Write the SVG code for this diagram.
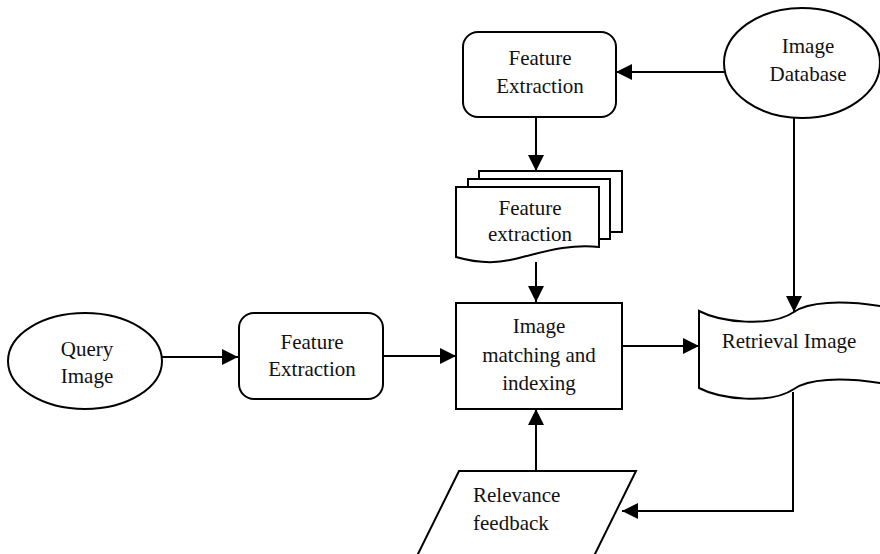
<svg xmlns="http://www.w3.org/2000/svg" width="880" height="554" viewBox="0 0 880 554">
<style>
.s{fill:#fff;stroke:#000;stroke-width:2}
.t{font-family:"Liberation Serif","Times New Roman",serif;font-size:21px;fill:#111;text-anchor:middle}
.c{fill:none;stroke:#000;stroke-width:2}
</style>
<defs>
<marker id="ah" markerUnits="userSpaceOnUse" markerWidth="16" markerHeight="16" refX="16" refY="8" orient="auto">
<path d="M0,0 L16,8 L0,16 Z" fill="#000"/>
</marker>
</defs>
<rect width="880" height="554" fill="#fff"/>
<g id="connectors">
<path class="c" d="M162,357 H238" marker-end="url(#ah)"/>
<path class="c" d="M383,356 H456" marker-end="url(#ah)"/>
<path class="c" d="M622,346 H699" marker-end="url(#ah)"/>
<path class="c" d="M536,471 V409" marker-end="url(#ah)"/>
<path class="c" d="M793,392 V511 H622" marker-end="url(#ah)"/>
<path class="c" d="M794,117 V312" marker-end="url(#ah)"/>
<path class="c" d="M724,72 H616" marker-end="url(#ah)"/>
<path class="c" d="M536,117 V171" marker-end="url(#ah)"/>
<path class="c" d="M536,262 V302" marker-end="url(#ah)"/>
</g>
<g id="query-image">
<ellipse class="s" cx="85" cy="361" rx="77" ry="48"/>
<text class="t" x="87" y="356">Query</text>
<text class="t" x="87" y="383">Image</text>
</g>
<g id="feature-extraction-query">
<rect class="s" x="239" y="313" width="144" height="86" rx="15"/>
<text class="t" x="312" y="349">Feature</text>
<text class="t" x="312" y="376">Extraction</text>
</g>
<g id="image-matching">
<rect class="s" x="456" y="303" width="166" height="106"/>
<text class="t" x="539" y="333">Image</text>
<text class="t" x="539" y="362">matching and</text>
<text class="t" x="539" y="390">indexing</text>
</g>
<g id="retrieval-image">
<path class="s" d="M699,311 C720,322 770,328 794,312 C808,302 840,300 880,306 L900,309 V386 L880,383 C840,377 808,379 794,389 C770,405 720,399 699,388 Z"/>
<text class="t" x="789" y="348">Retrieval Image</text>
</g>
<g id="relevance-feedback">
<polygon class="s" points="459,471 636,471 592,560 415,560"/>
<text class="t" x="473" y="502" style="text-anchor:start">Relevance</text>
<text class="t" x="473" y="530" style="text-anchor:start">feedback</text>
</g>
<g id="image-database">
<ellipse class="s" cx="802" cy="63" rx="78" ry="55"/>
<text class="t" x="808" y="53">Image</text>
<text class="t" x="808" y="81">Database</text>
</g>
<g id="feature-extraction-db">
<rect class="s" x="463" y="32" width="153" height="85" rx="15"/>
<text class="t" x="540" y="65">Feature</text>
<text class="t" x="540" y="93">Extraction</text>
</g>
<g id="feature-extraction-docs">
<rect class="s" x="479" y="171" width="143" height="61"/>
<rect class="s" x="468" y="179" width="142" height="60"/>
<path class="s" d="M456,187 H599 V247 C565,243 535,255 510,260 C488,265 470,261 456,257 Z"/>
<text class="t" x="530" y="215">Feature</text>
<text class="t" x="530" y="241">extraction</text>
</g>
</svg>
